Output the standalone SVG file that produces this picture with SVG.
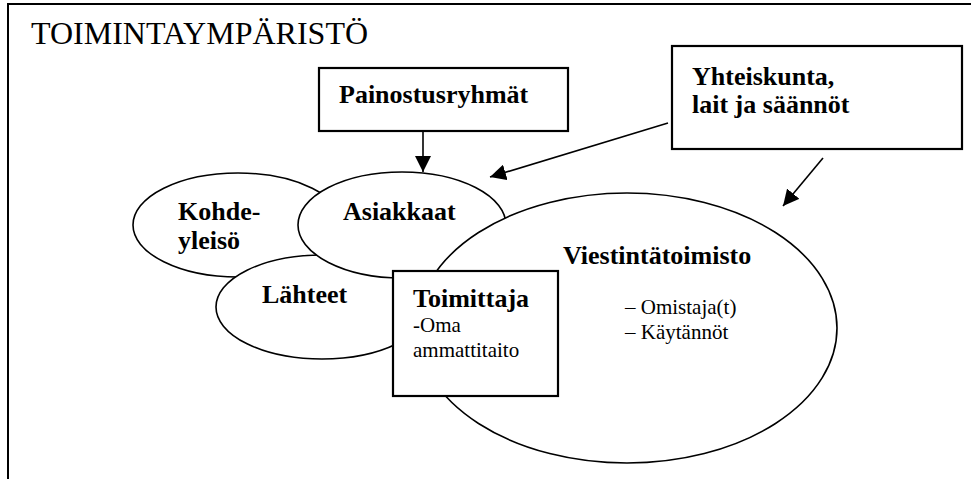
<svg xmlns="http://www.w3.org/2000/svg" width="971" height="479" viewBox="0 0 971 479">
<style>
text{font-family:'Liberation Serif','DejaVu Serif',serif;fill:#000}
.shape{fill:#fff;stroke:#000;stroke-width:1.6}
.box{fill:#fff;stroke:#000;stroke-width:2.2}
.b{font-weight:bold;font-size:26px}
.r{font-size:21px}
.t{font-size:32px}
.conn{stroke:#000;stroke-width:1.6;fill:none;marker-end:url(#ah)}
</style>
<defs>
<marker id="ah" markerUnits="userSpaceOnUse" markerWidth="16" markerHeight="16" refX="16" refY="8" orient="auto">
<path d="M0,0 L16,8 L0,16 z" fill="#000"/>
</marker>
</defs>
<rect width="971" height="479" fill="#fff"/>
<g id="frame">
<path d="M8,479 L8,4 L971,4" fill="none" stroke="#000" stroke-width="2"/>
<text class="t" x="31" y="44">TOIMINTAYMPÄRISTÖ</text>
</g>
<g id="kohdeyleiso">
<ellipse class="shape" cx="238" cy="225" rx="105" ry="52"/>
<text class="b" x="178" y="220">Kohde-</text>
<text class="b" x="178" y="249">yleisö</text>
</g>
<g id="lahteet">
<ellipse class="shape" cx="322" cy="307" rx="106" ry="52"/>
<text class="b" x="262" y="303">Lähteet</text>
</g>
<g id="asiakkaat">
<ellipse class="shape" cx="402" cy="225" rx="104" ry="53"/>
<text class="b" x="343" y="220">Asiakkaat</text>
</g>
<g id="viestintatoimisto">
<ellipse class="shape" cx="627" cy="328" rx="210" ry="135"/>
<text class="b" x="563" y="264">Viestintätoimisto</text>
<text class="r" x="625" y="314">– Omistaja(t)</text>
<text class="r" x="625" y="339">– Käytännöt</text>
</g>
<g id="toimittaja">
<rect class="box" x="393" y="271" width="165" height="125"/>
<text class="b" x="413" y="307">Toimittaja</text>
<text class="r" x="413" y="332">-Oma</text>
<text class="r" x="413" y="357">ammattitaito</text>
</g>
<g id="painostusryhmat">
<rect class="box" x="319" y="68" width="249" height="63"/>
<text class="b" x="339" y="103">Painostusryhmät</text>
</g>
<g id="yhteiskunta">
<rect class="box" x="672" y="46" width="290" height="103"/>
<text class="b" x="692" y="85">Yhteiskunta,</text>
<text class="b" x="692" y="113">lait ja säännöt</text>
</g>
<g id="connectors">
<line class="conn" x1="423" y1="131" x2="423" y2="172"/>
<line class="conn" x1="668" y1="123" x2="490" y2="177"/>
<line class="conn" x1="823" y1="158" x2="783" y2="206"/>
</g>
</svg>
